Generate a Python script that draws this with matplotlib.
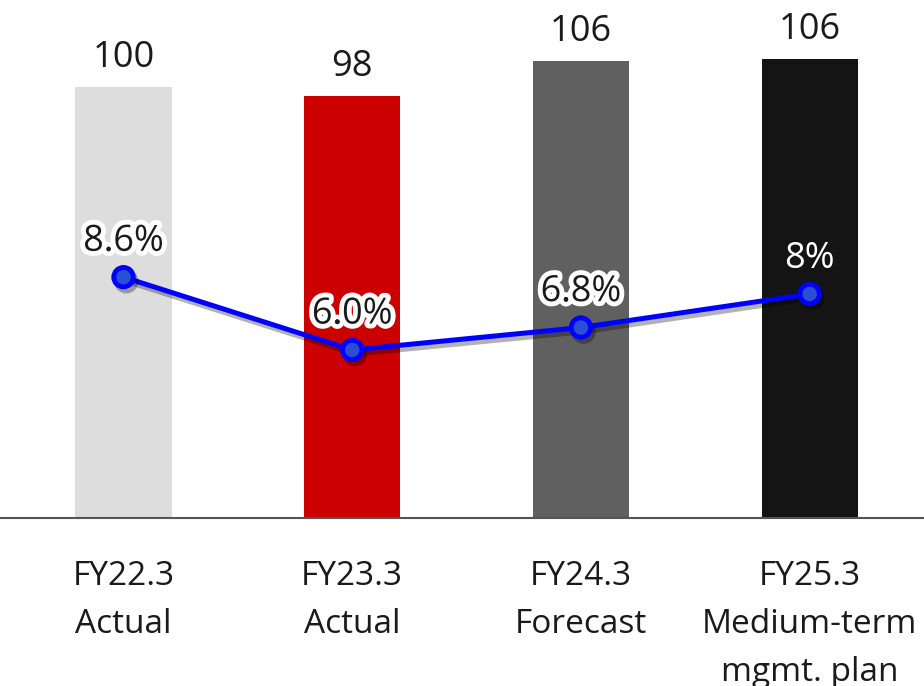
import matplotlib.pyplot as plt
import matplotlib.patheffects as pe

plt.rcParams['font.family'] = ['Open Sans', 'DejaVu Sans']

categories = ['FY22.3\nActual', 'FY23.3\nActual', 'FY24.3\nForecast', 'FY25.3\nMedium-term\nmgmt. plan']
bar_values = [100, 98, 106, 106.5]
bar_labels = ['100', '98', '106', '106']
margin_pct = [8.6, 6.0, 6.8, 8.0]
margin_labels = ['8.6%', '6.0%', '6.8%', '8%']
bar_colors = ['#dddddd', '#cc0000', '#606060', '#141414']

fig = plt.figure(figsize=(9.24, 6.86), dpi=100)
ax = fig.add_axes([0, 0.245, 1, 0.755])
x = range(len(categories))

ax.bar(x, bar_values, width=0.42, color=bar_colors, zorder=2)
for i, v in enumerate(bar_values):
    ax.annotate(bar_labels[i], (i, v), xytext=(0, 14.5), textcoords='offset points',
                ha='center', va='baseline', fontsize=26, color='#1a1a1a')

ax.set_xlim(-0.54, 3.5)
ax.set_ylim(0, 120.2)
for s in ['top', 'left', 'right']:
    ax.spines[s].set_visible(False)
ax.spines['bottom'].set_color('#555555')
ax.spines['bottom'].set_linewidth(1.5)
ax.spines['bottom'].set_zorder(5)
ax.set_yticks([])
ax.set_xticks(list(x))
ax.set_xticklabels(categories, fontsize=24, color='#1a1a1a', linespacing=1.6)
ax.tick_params(axis='x', length=0, pad=30)

ax2 = ax.twinx()
ax2.set_ylim(0, 18.5)
ax2.set_yticks([])
for s in ax2.spines.values():
    s.set_visible(False)
ax2.plot(x, margin_pct, color='#0000ff', lw=3.6, marker='o', ms=14,
         mfc='#2a4fd6', mec='#0000ff', mew=3.5, zorder=3,
         path_effects=[pe.SimpleLineShadow(offset=(2, -3), alpha=0.3, shadow_color='black'), pe.Normal()])
for i, v in enumerate(margin_pct):
    if i == 3:
        ax2.annotate(margin_labels[i], (i, v), xytext=(0, 19), textcoords='offset points',
                     ha='center', va='baseline', fontsize=26, color='white', zorder=4)
    else:
        ax2.annotate(margin_labels[i], (i, v), xytext=(0, 19), textcoords='offset points',
                     ha='center', va='baseline', fontsize=26, color='#1a1a1a', zorder=4,
                     path_effects=[pe.withStroke(linewidth=7, foreground='white')])

fig.savefig('out.png', dpi=100)
